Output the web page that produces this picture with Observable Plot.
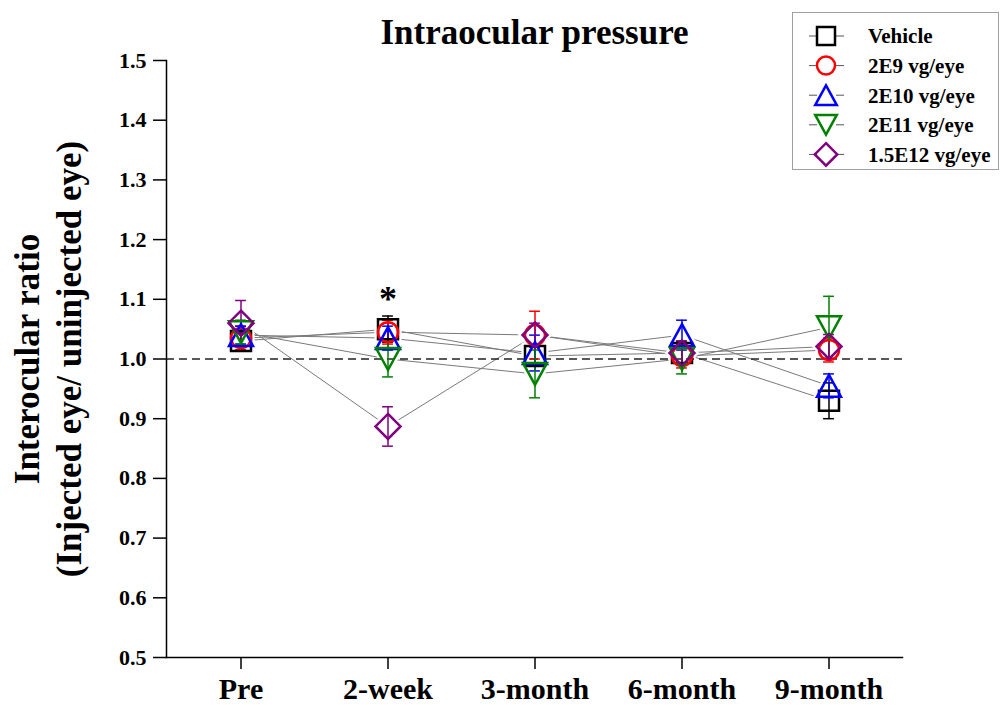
<!DOCTYPE html>
<html><head><meta charset="utf-8">
<script src="https://cdn.jsdelivr.net/npm/d3@7"></script>
<script src="https://cdn.jsdelivr.net/npm/@observablehq/plot@0.6"></script>
<style>
body{margin:0;background:#fff;}
#wrap{position:relative;width:1000px;height:705px;font-family:"Liberation Serif","Times New Roman",serif;}
#legend{position:absolute;left:792px;top:12px;width:207px;height:158px;border:1px solid #a0a0a0;box-sizing:border-box;background:#fff;}
#chart svg{font-family:"Liberation Serif","Times New Roman",serif;font-weight:bold;}
</style></head><body><div id="wrap"><div id="chart"></div><div id="legend"></div></div>
<script>
// ---- data ----
const timepoints = ["Pre", "2-week", "3-month", "6-month", "9-month"];
const seriesNames = ["Vehicle", "2E9 vg/eye", "2E10 vg/eye", "2E11 vg/eye", "1.5E12 vg/eye"];
const seriesColors = ["#000000", "#ff0000", "#0000ff", "#008000", "#800080"];
const seriesSymbols = ["square", "circle", "triangleUp", "triangleDown", "diamond"];
const vehicleMean = [1.030, 1.050, 1.005, 1.010, 0.930];
const vehicleErr  = [0.015, 0.022, 0.015, 0.020, 0.030];
const e9Mean  = [1.035, 1.045, 1.040, 1.005, 1.015];
const e9Err   = [0.020, 0.020, 0.040, 0.020, 0.020];
const e10Mean = [1.040, 1.035, 1.010, 1.040, 0.955];
const e10Err  = [0.015, 0.020, 0.030, 0.025, 0.020];
const e11Mean = [1.045, 1.000, 0.975, 1.000, 1.053];
const e11Err  = [0.020, 0.030, 0.040, 0.025, 0.052];
const e12Mean = [1.060, 0.887, 1.040, 1.010, 1.021];
const e12Err  = [0.038, 0.033, 0.020, 0.020, 0.020];
const yTicks = [0.5, 0.6, 0.7, 0.8, 0.9, 1.0, 1.1, 1.2, 1.3, 1.4, 1.5];
const referenceLevel = [1.0];
const significance = [{time: "2-week", y: 1.10, label: "*"}];
const chartTitle = "Intraocular pressure";
const yLabel = "Interocular ratio\n(Injected eye/ uninjected eye)";

const means = [vehicleMean, e9Mean, e10Mean, e11Mean, e12Mean];
const errs = [vehicleErr, e9Err, e10Err, e11Err, e12Err];

// ---- custom Origin-like symbols ----
const rad = size => Math.sqrt(size / Math.PI);
const symbolDefs = {
  square: {draw(c, s) { const r = rad(s); c.rect(-r, -r, 2 * r, 2 * r); }},
  circle: {draw(c, s) { const r = rad(s); c.moveTo(r, 0); c.arc(0, 0, r, 0, 2 * Math.PI); }},
  triangleUp: {draw(c, s) { const r = rad(s), w = 1.2 * r, h = 1.1 * r; c.moveTo(0, -h); c.lineTo(w, h); c.lineTo(-w, h); c.closePath(); }},
  triangleDown: {draw(c, s) { const r = rad(s), w = 1.2 * r, h = 1.1 * r; c.moveTo(0, h); c.lineTo(w, -h); c.lineTo(-w, -h); c.closePath(); }},
  diamond: {draw(c, s) { const r = rad(s) * 1.25; c.moveTo(0, -r); c.lineTo(r, 0); c.lineTo(0, r); c.lineTo(-r, 0); c.closePath(); }}
};

const series = seriesNames.map((name, i) => ({
  name, color: seriesColors[i], symbol: symbolDefs[seriesSymbols[i]],
  rows: timepoints.map((t, j) => ({series: name, time: t, mean: means[i][j], err: errs[i][j]}))
}));

const W = 1000, H = 705;
const mL = 166, mR = 98, mT = 60, mB = 48;
const bandW = (W - mL - mR) / timepoints.length;
const capInset = (bandW - 11) / 2;

const marks = [];
series.forEach(s => marks.push(Plot.line(s.rows, {x: "time", y: "mean", stroke: "#7a7a7a", strokeWidth: 1})));
series.forEach(s => marks.push(Plot.dot(s.rows, {x: "time", y: "mean", r: 10, symbol: s.symbol, fill: "white", stroke: "white", strokeWidth: 7})));
marks.push(Plot.ruleY(referenceLevel, {stroke: "#222", strokeWidth: 1.7, strokeDasharray: "8,5"}));
series.forEach(s => {
  marks.push(Plot.ruleX(s.rows, {x: "time", y1: d => d.mean - d.err, y2: d => d.mean + d.err, stroke: s.color, strokeWidth: 1.5}));
  marks.push(Plot.tickY(s.rows, {x: "time", y: d => d.mean + d.err, stroke: s.color, strokeWidth: 1.5, insetLeft: capInset, insetRight: capInset}));
  marks.push(Plot.tickY(s.rows, {x: "time", y: d => d.mean - d.err, stroke: s.color, strokeWidth: 1.5, insetLeft: capInset, insetRight: capInset}));
});
series.forEach(s => marks.push(Plot.dot(s.rows, {x: "time", y: "mean", r: 10, symbol: s.symbol, fill: "none", stroke: s.color, strokeWidth: 2.5})));
marks.push(Plot.text(significance, {x: "time", y: "y", text: "label", fontSize: 36, fontWeight: "bold", fill: "black"}));
marks.push(Plot.axisY({ticks: yTicks, tickFormat: d => d.toFixed(1), tickSize: 13, tickPadding: 7, fontSize: 22, fontWeight: "bold", label: null, strokeWidth: 1.5}));
marks.push(Plot.axisX({tickSize: 12, tickPadding: 8, fontSize: 30, fontWeight: "bold", label: null, strokeWidth: 1.5}));
marks.push(Plot.frame({anchor: "left", strokeWidth: 1.5}));
marks.push(Plot.frame({anchor: "bottom", strokeWidth: 1.5}));
marks.push(Plot.text([chartTitle], {frameAnchor: "top", lineAnchor: "middle", dy: -28, fontSize: 35, fontWeight: "bold", fill: "black"}));
marks.push(Plot.text([yLabel], {frameAnchor: "left", textAnchor: "middle", lineAnchor: "middle", rotate: -90, dx: -120, fontSize: 35, lineHeight: 1.2, fontWeight: "bold", fill: "black"}));

const chart = Plot.plot({
  width: W, height: H,
  marginLeft: mL, marginRight: mR, marginTop: mT, marginBottom: mB,
  style: {color: "black", background: "white", fontFamily: "Liberation Serif, Times New Roman, serif"},
  x: {type: "band", domain: timepoints, padding: 0},
  y: {domain: [0.5, 1.5]},
  marks
});
document.getElementById("chart").appendChild(chart);

// ---- legend ----
const lg = d3.select("#legend").append("svg").attr("width", 205).attr("height", 156);
series.forEach((s, i) => {
  const cy = 23 + i * 29.6;
  const g = lg.append("g").attr("transform", `translate(0,${cy})`);
  g.append("line").attr("x1", 16).attr("x2", 24).attr("y1", 0).attr("y2", 0).attr("stroke", "#555").attr("stroke-width", 1);
  g.append("line").attr("x1", 43).attr("x2", 51).attr("y1", 0).attr("y2", 0).attr("stroke", "#555").attr("stroke-width", 1);
  const p = d3.path(); s.symbol.draw(p, Math.PI * 81);
  g.append("path").attr("d", p.toString()).attr("transform", "translate(33,0)").attr("fill", "none").attr("stroke", s.color).attr("stroke-width", 2.5);
  g.append("text").attr("x", 75).attr("y", 0).attr("dy", "0.35em").attr("font-size", 21).attr("font-weight", "bold")
    .attr("font-family", "Liberation Serif, Times New Roman, serif").attr("fill", "black").text(s.name);
});
</script></body></html>
